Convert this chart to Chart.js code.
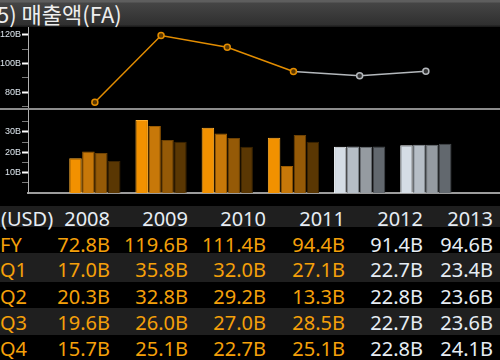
<!DOCTYPE html>
<html>
<head>
<meta charset="utf-8">
<script src="https://cdn.jsdelivr.net/npm/chart.js@4"></script>
<style>
  body { margin: 0; background: #000; width: 500px; height: 360px; overflow: hidden; position: relative; font-family: "Noto Sans", sans-serif; }
  #titleBar { position: absolute; left: 0; top: 0; width: 500px; height: 27px;
    background: linear-gradient(#5e5e5e 0px, #5e5e5e 2px, #454545 3px, #3a3a3a 14px, #2f2f2f 25px, #1c1c1c 26px, #1c1c1c 27px); }
  #titleBar span { position: absolute; left: -3px; top: 0; line-height: 27px; font-size: 22px; color: #eeeeee;
    font-family: "Noto Sans CJK KR", "Noto Sans", sans-serif; white-space: nowrap; }
  canvas { position: absolute; left: 0; }
  #lineChart { top: 27px; }
  #barChart { top: 110px; }
  #sep { position: absolute; left: 0; top: 108px; width: 500px; height: 2px; background: #8c8c8c; }
  .band { position: absolute; left: 0; width: 500px; background: #1f1f1f; }
  .cell { position: absolute; height: 26px; line-height: 26px; font-size: 20px; white-space: nowrap; }
</style>
</head>
<body>
<div id="titleBar"><span>5) 매출액(FA)</span></div>
<canvas id="lineChart" width="500" height="81"></canvas>
<div id="sep"></div>
<canvas id="barChart" width="500" height="84"></canvas>
<div id="table"></div>
<script>
const years = [2008, 2009, 2010, 2011, 2012, 2013];
const estimateFrom = 2012;
const fyValues = [72.8, 119.6, 111.4, 94.4, 91.4, 94.6];
const q1Values = [17.0, 35.8, 32.0, 27.1, 22.7, 23.4];
const q2Values = [20.3, 32.8, 29.2, 13.3, 22.8, 23.6];
const q3Values = [19.6, 26.0, 27.0, 28.5, 22.7, 23.6];
const q4Values = [15.7, 25.1, 22.7, 25.1, 22.8, 24.1];
const quarterNames = ['Q1', 'Q2', 'Q3', 'Q4'];
const lineTicks = [70, 80, 90, 100, 110, 120];
const barTicks = [5, 10, 15, 20, 25, 30, 35];

const orange = '#e38d00';
const gray = '#b4b8bc';
const orangeShades = ['#f29100', '#c77809', '#955a07', '#5a3703'];
const orangeEdges = ['#ffb030', '#9c5c02', '#6e4204', '#3c2402'];
const grayShades = ['#d5dde5', '#b6bec6', '#959ba1', '#62686e'];
const grayEdges = ['#f4f8fc', '#8e959c', '#72777c', '#45494d'];

Chart.defaults.animation = false;
Chart.defaults.responsive = false;
Chart.defaults.devicePixelRatio = 1;

const xMin = 2006.99, xMax = 2014.12;

function yAxis(min, max, tickValues, labelEvery) {
  return {
    min: min,
    max: max,
    afterBuildTicks: function (s) { s.ticks = tickValues.map(v => ({ value: v })); },
    afterFit: function (s) { s.width = 28; s.paddingTop = 0; s.paddingBottom = 0; },
    ticks: {
      color: '#dde6ee',
      autoSkip: false,
      padding: 1,
      font: { size: 9, family: 'Liberation Sans' },
      callback: v => (v % labelEvery === 0 ? v + 'B' : '')
    },
    grid: {
      drawOnChartArea: false,
      tickLength: 6,
      tickColor: c => (c.tick && c.tick.value % labelEvery === 0 ? '#ffffff' : '#7a7a7a'),
      tickWidth: c => (c.tick && c.tick.value % labelEvery === 0 ? 2 : 1)
    },
    border: { color: '#b0b0b0', width: 1 }
  };
}

function isEstimate(x) { return x >= estimateFrom; }

// FY line
new Chart(document.getElementById('lineChart'), {
  type: 'line',
  data: {
    datasets: [{
      data: years.map((y, i) => ({ x: y, y: fyValues[i] })),
      borderWidth: 1.5,
      borderColor: orange,
      segment: { borderColor: c => (isEstimate(c.p1.parsed.x) ? gray : orange) },
      pointStyle: 'circle',
      pointRadius: 3,
      pointBorderWidth: 1.5,
      pointBorderColor: c => (isEstimate(c.raw.x) ? gray : orange),
      pointBackgroundColor: c => (isEstimate(c.raw.x) ? '#333' : '#5a3700')
    }]
  },
  options: {
    layout: { padding: 0, autoPadding: false },
    plugins: { legend: { display: false }, tooltip: { enabled: false } },
    scales: {
      x: { type: 'linear', min: xMin, max: xMax, offset: false, display: false },
      y: yAxis(68.8, 125.6, lineTicks, 20)
    }
  }
});

// quarterly bars
const quarterValues = [q1Values, q2Values, q3Values, q4Values];
new Chart(document.getElementById('barChart'), {
  type: 'bar',
  data: {
    datasets: quarterValues.map((vals, q) => ({
      label: quarterNames[q],
      data: years.map((y, i) => ({ x: y, y: vals[i] })),
      backgroundColor: c => (isEstimate(c.raw.x) ? grayShades[q] : orangeShades[q]),
      borderColor: c => (isEstimate(c.raw.x) ? grayEdges[q] : orangeEdges[q]),
      borderWidth: 1,
      categoryPercentage: 0.78,
      barPercentage: 0.97
    }))
  },
  options: {
    layout: { padding: { bottom: 1 }, autoPadding: false },
    plugins: { legend: { display: false }, tooltip: { enabled: false } },
    scales: {
      x: {
        type: 'linear', min: xMin, max: xMax, offset: false,
        afterFit: function (s) { s.height = 0; s.paddingLeft = 0; s.paddingRight = 0; },
        ticks: { display: false },
        grid: { display: false, drawTicks: false, offset: false },
        border: { color: '#9c9c9c', width: 2 }
      },
      y: yAxis(0, 40.7, barTicks, 10)
    }
  }
});

// table
const table = document.getElementById('table');
const colRight = [110, 188, 266, 345, 423, 493];
const rowTop = [206, 232, 257, 284, 310, 336];
const bands = [[206, 21], [253, 29], [308, 27]];
bands.forEach(b => {
  const d = document.createElement('div');
  d.className = 'band';
  d.style.top = b[0] + 'px';
  d.style.height = b[1] + 'px';
  table.appendChild(d);
});

function addCell(text, top, color, left, right) {
  const d = document.createElement('div');
  d.className = 'cell';
  d.textContent = text;
  d.style.top = top + 'px';
  d.style.color = color;
  if (left !== null) d.style.left = left + 'px';
  else { d.style.right = (500 - right) + 'px'; d.style.textAlign = 'right'; }
  table.appendChild(d);
}

const white = '#e6edf4';
const textOrange = '#f5a00a';
addCell('(USD)', rowTop[0], white, 1, null);
years.forEach((y, i) => addCell(String(y), rowTop[0], white, null, colRight[i]));

const rowNames = ['FY'].concat(quarterNames);
const rowValues = [fyValues].concat(quarterValues);
rowNames.forEach((name, r) => {
  addCell(name, rowTop[r + 1], textOrange, 0, null);
  rowValues[r].forEach((v, i) => {
    addCell(v.toFixed(1) + 'B', rowTop[r + 1], isEstimate(years[i]) ? white : textOrange, null, colRight[i]);
  });
});
</script>
</body>
</html>
